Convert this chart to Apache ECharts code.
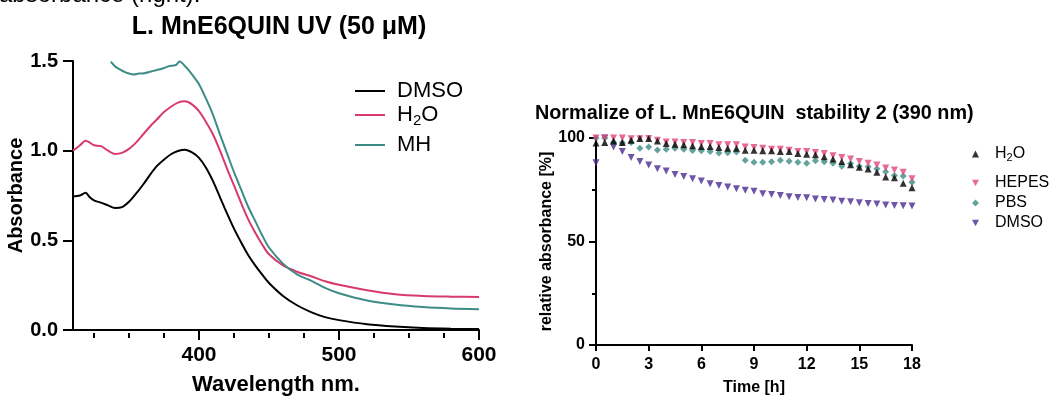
<!DOCTYPE html>
<html>
<head>
<meta charset="utf-8">
<script src="https://cdn.jsdelivr.net/npm/echarts@6/dist/echarts.min.js"></script>
<style>
html,body{margin:0;padding:0;background:#fff;}
#c{width:1053px;height:401px;}
</style>
</head>
<body>
<div id="c"></div>
<script>
// ---- Left chart: UV spectra ----
const wlA = [310,315,319,322,325,330,335,340,345,350,355,360,365,370,375,380,385,390,395,400,405,410,415,420,425,430,435,440,445,450,460,470,480,490,500,520,540,560,580,600];
const dmsoAbs = [0.745,0.75,0.765,0.74,0.723,0.71,0.695,0.68,0.685,0.715,0.76,0.81,0.865,0.915,0.95,0.98,0.998,1.005,0.99,0.96,0.905,0.83,0.74,0.65,0.565,0.49,0.42,0.362,0.31,0.262,0.19,0.138,0.1,0.072,0.055,0.032,0.019,0.011,0.007,0.005];
const h2oAbs = [1.0,1.03,1.055,1.045,1.03,1.025,1.0,0.982,0.988,1.01,1.045,1.09,1.135,1.175,1.215,1.245,1.268,1.275,1.258,1.22,1.16,1.09,1.0,0.9,0.806,0.71,0.62,0.545,0.478,0.422,0.36,0.325,0.3,0.272,0.252,0.222,0.2,0.19,0.186,0.184];
const wlMH = [337,340,344,348,353,357,361,365,370,374,378,382,384,386,387.5,389,392,395,400,405,410,415,420,425,430,435,440,445,450,460,470,480,490,500,520,540,560,580,600];
const mhAbs = [1.496,1.47,1.45,1.435,1.425,1.43,1.432,1.44,1.45,1.458,1.47,1.475,1.48,1.497,1.492,1.48,1.455,1.425,1.37,1.29,1.2,1.09,0.985,0.88,0.785,0.69,0.61,0.53,0.46,0.37,0.31,0.275,0.235,0.205,0.165,0.142,0.128,0.12,0.116];
const leftXLabels = [400,500,600];
const leftXMinor = [325,350,375,425,450,475,525,550,575];

// ---- Right chart: stability ----
const timeH = [0,0.5,1,1.5,2,2.5,3,3.5,4,4.5,5,5.5,6,6.5,7,7.5,8,8.5,9,9.5,10,10.5,11,11.5,12,12.5,13,13.5,14,14.5,15,15.5,16,16.5,17,17.5,18];
const relH2O = [97.6,97.8,98.6,97.8,98.9,99.8,99.8,98.6,97.3,97.0,96.7,96.2,95.9,95.9,95.4,95.0,95.0,94.1,94.1,93.8,93.8,93.5,93.5,92.5,92.2,91.9,91.0,89.8,88.7,87.1,85.9,85.0,83.5,81.1,80.8,78.2,76.0];
const relHEPES = [100,100,100,100,99.6,99.6,99.7,98.9,98.1,98.1,97.8,97.8,97.4,97.3,96.7,96.7,96.7,95.7,95.4,95.0,94.6,94.6,94.1,93.5,93.5,93.0,92.5,91.4,90.6,89.8,88.6,87.8,87.0,85.5,84.6,83.5,80.3];
const relPBS = [100,100,97.9,97.7,97.8,95.0,95.6,94.2,94.6,95.0,94.6,94.0,93.9,93.5,92.7,92.9,93.2,89.3,88.3,88.3,88.5,89.3,88.8,88.3,87.8,89.0,88.5,87.8,86.3,87.7,86.4,86.1,85.1,83.7,81.9,81.6,78.6];
const relDMSO = [88.1,100,95.7,93.5,90.6,88.7,87.0,85.2,84.0,82.4,81.4,80.3,79.2,77.9,77.1,76.3,75.5,74.8,74.3,73.1,72.7,72.2,71.6,71.2,71.1,70.5,70.3,70.0,69.5,69.2,68.7,68.4,68.1,67.6,67.4,67.3,67.1];

const FONT = '"Liberation Sans", Arial, sans-serif';
const PINK = '#d83a6c';
const PINK2 = '#e0457a';
const TEAL = '#3d8c85';
const PURPLE = '#4a2b8f';
const TRI_DOWN = 'path://M0,0 L10,0 L5,9 Z';

function pairs(xs, ys){ return xs.map((x,i)=>[x, ys[i]]); }

const subRich = function(size){
  return {
    n: {fontSize: size, fontFamily: FONT, color: '#000'},
    s: {fontSize: Math.round(size*0.7), fontFamily: FONT, color: '#000', padding: [Math.round(size*0.5),0,0,0]}
  };
};

const chart = echarts.init(document.getElementById('c'));
const axisBlack = {lineStyle:{color:'#000', width:2}};
const lgL = {fontFamily: FONT, fontSize: 22, color: '#000', lineHeight: 22, padding: [0,0,0,7]};
const lgR = {fontFamily: FONT, fontSize: 16, color: '#000', lineHeight: 16, padding: [0,0,0,11]};
const leftGrid = {left: 73, right: 574, top: 61, bottom: 68};

const option = {
  animation: false,
  backgroundColor: '#fff',
  title: [
    {text: 'L. MnE6QUIN UV (50 μM)', left: 274, top: 10, textAlign: 'center',
     textStyle: {fontFamily: FONT, fontSize: 25, fontWeight: 'bold', color: '#000'}},
    {text: 'Normalize of L. MnE6QUIN  stability 2 (390 nm)', left: 530, top: 99,
     textStyle: {fontFamily: FONT, fontSize: 19.8, fontWeight: 'bold', color: '#000'}}
  ],
  graphic: [
    {type: 'text', left: -1, top: -17, style: {text: 'absorbance (right).', fontFamily: FONT, fontSize: 24, fill: '#000'}}
  ],
  legend: [
    {data: ['DMSO'], left: 350, top: 75, itemWidth: 30, itemHeight: 2, icon: 'rect', textStyle: lgL},
    {data: ['H2O'], left: 350, top: 99, itemWidth: 30, itemHeight: 2, icon: 'rect',
     formatter: () => '{n|H}{s|2}{n|O}',
     textStyle: {fontFamily: FONT, fontSize: 22, color: '#000', padding: [0,0,0,7], rich: subRich(22)}},
    {data: ['MH'], left: 350, top: 129, itemWidth: 30, itemHeight: 2, icon: 'rect', textStyle: lgL},
    {data: ['H₂O '], left: 967, top: 141, itemWidth: 7, itemHeight: 7,
     formatter: () => '{n|H}{s|2}{n|O}',
     textStyle: {fontFamily: FONT, fontSize: 16, color: '#000', padding: [0,0,0,11], rich: subRich(16)}},
    {data: ['HEPES'], left: 967, top: 170, itemWidth: 7, itemHeight: 7, textStyle: lgR},
    {data: ['PBS'], left: 967, top: 190, itemWidth: 7, itemHeight: 7, textStyle: lgR},
    {data: ['DMSO '], left: 967, top: 210, itemWidth: 7, itemHeight: 7, textStyle: lgR,
     formatter: () => 'DMSO'}
  ],
  grid: [
    leftGrid,
    {left: 596, right: 141, top: 138, bottom: 53},
    leftGrid
  ],
  xAxis: [
    {gridIndex: 0, type: 'value', min: 310, max: 600, position: 'bottom',
     name: 'Wavelength nm.', nameLocation: 'middle', nameGap: 44,
     nameTextStyle: {fontFamily: FONT, fontSize: 22, fontWeight: 'bold', color: '#000'},
     axisLine: axisBlack, splitLine: {show: false},
     axisTick: {show: true, length: 10, customValues: leftXLabels, lineStyle: {color:'#000', width: 2}},
     axisLabel: {customValues: leftXLabels, margin: 15, fontFamily: FONT, fontSize: 21, fontWeight: 'bold', color: '#000'}},
    {gridIndex: 2, type: 'value', min: 310, max: 600,
     axisLine: {show: true, lineStyle: {color: '#000', width: 2, opacity: 0}}, splitLine: {show: false},
     axisTick: {show: true, length: 5, customValues: leftXMinor, lineStyle: {color:'#000', width: 2}},
     axisLabel: {show: true, customValues: leftXMinor, color: 'rgba(0,0,0,0)', fontSize: 10}},
    {gridIndex: 1, type: 'value', min: 0, max: 18, interval: 3,
     name: 'Time [h]', nameLocation: 'middle', nameGap: 35,
     nameTextStyle: {fontFamily: FONT, fontSize: 16, fontWeight: 'bold', color: '#000'},
     axisLine: axisBlack, splitLine: {show: false},
     axisTick: {length: 6, lineStyle: {color:'#000', width: 2}},
     axisLabel: {margin: 12, fontFamily: FONT, fontSize: 16, fontWeight: 'bold', color: '#000'}}
  ],
  yAxis: [
    {gridIndex: 0, type: 'value', min: 0, max: 1.5, interval: 0.5,
     name: 'Absorbance', nameLocation: 'middle', nameGap: 42,
     nameTextStyle: {fontFamily: FONT, fontSize: 20, fontWeight: 'bold', color: '#000'},
     axisLine: {show: true, lineStyle: {color:'#000', width: 2}}, splitLine: {show: false},
     axisTick: {show: true, length: 10, lineStyle: {color:'#000', width: 2}},
     axisLabel: {margin: 15, formatter: v => v.toFixed(1), fontFamily: FONT, fontSize: 20, fontWeight: 'bold', color: '#000'}},
    {gridIndex: 1, type: 'value', min: 0, max: 100, interval: 50,
     name: 'relative absorbance [%]', nameLocation: 'middle', nameGap: 40,
     nameTextStyle: {fontFamily: FONT, fontSize: 16, fontWeight: 'bold', color: '#000'},
     axisLine: {show: true, lineStyle: {color:'#000', width: 2}}, splitLine: {show: false},
     axisTick: {show: true, length: 7, lineStyle: {color:'#000', width: 2}},
     minorTick: {show: true, splitNumber: 2, length: 4, lineStyle: {color:'#000', width: 2}},
     minorSplitLine: {show: false},
     axisLabel: {margin: 11, fontFamily: FONT, fontSize: 16, fontWeight: 'bold', color: '#000'}},
    {gridIndex: 2, type: 'value', min: 0, max: 1.5, show: false}
  ],
  series: [
    {name: 'DMSO', type: 'line', xAxisIndex: 0, yAxisIndex: 0, data: pairs(wlA, dmsoAbs),
     symbol: 'none', smooth: 0.3, lineStyle: {color: '#000', width: 2}, itemStyle: {color: '#000'}},
    {name: 'H2O', type: 'line', xAxisIndex: 0, yAxisIndex: 0, data: pairs(wlA, h2oAbs),
     symbol: 'none', smooth: 0.3, lineStyle: {color: PINK, width: 2}, itemStyle: {color: PINK}},
    {name: 'MH', type: 'line', xAxisIndex: 0, yAxisIndex: 0, data: pairs(wlMH, mhAbs),
     symbol: 'none', smooth: 0.3, lineStyle: {color: TEAL, width: 2}, itemStyle: {color: TEAL}},
    {name: 'DMSO ', type: 'scatter', xAxisIndex: 2, yAxisIndex: 1, data: pairs(timeH, relDMSO),
     symbol: TRI_DOWN, symbolSize: 7, clip: false, itemStyle: {color: PURPLE}},
    {name: 'PBS', type: 'scatter', xAxisIndex: 2, yAxisIndex: 1, data: pairs(timeH, relPBS),
     symbol: 'diamond', symbolSize: 7, clip: false, itemStyle: {color: TEAL}},
    {name: 'HEPES', type: 'scatter', xAxisIndex: 2, yAxisIndex: 1, data: pairs(timeH, relHEPES),
     symbol: TRI_DOWN, symbolSize: 7, clip: false, itemStyle: {color: PINK2}},
    {name: 'H₂O ', type: 'scatter', xAxisIndex: 2, yAxisIndex: 1, data: pairs(timeH, relH2O),
     symbol: 'triangle', symbolSize: 7, clip: false, itemStyle: {color: '#000'}}
  ]
};
chart.setOption(option);
</script>
</body>
</html>
